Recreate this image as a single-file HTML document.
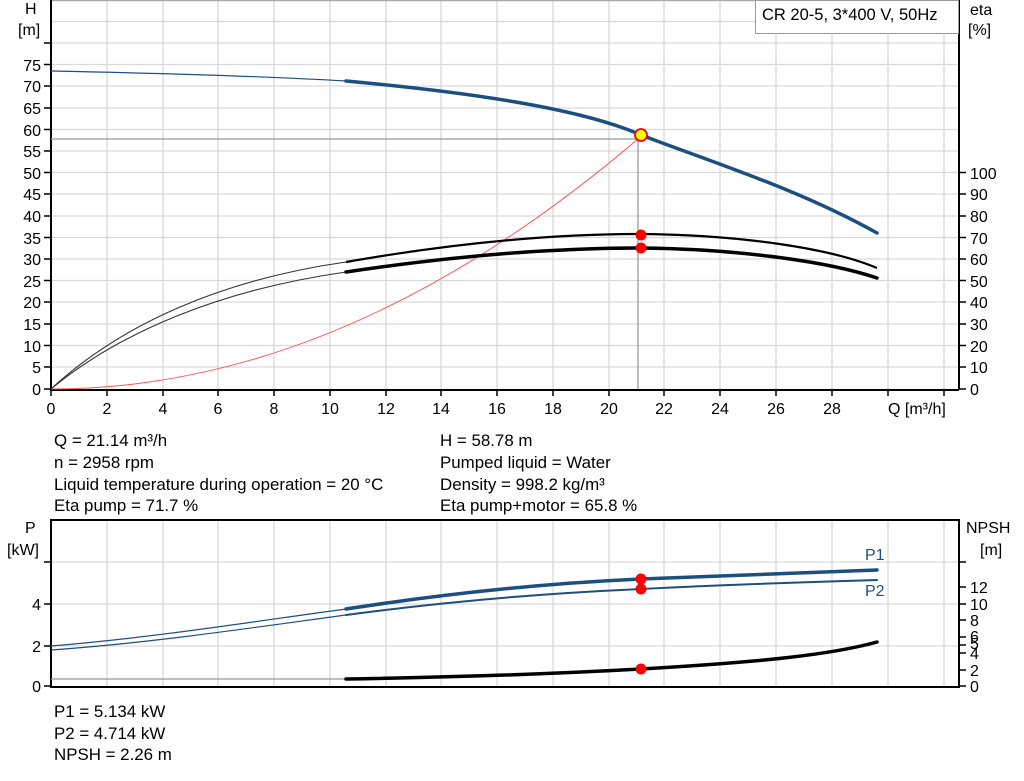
<!DOCTYPE html>
<html><head><meta charset="utf-8"><style>
body{margin:0;background:#fff;}
svg{display:block;font-family:"Liberation Sans",Arial,sans-serif;}
</style></head><body>
<svg width="1024" height="781" viewBox="0 0 1024 781" xmlns="http://www.w3.org/2000/svg">
<g stroke="#d9d9d9" stroke-width="1.3">
<path d="M107 0V389M163 0V389M218 0V389M274 0V389M330 0V389M386 0V389M441 0V389M497 0V389M553 0V389M609 0V389M664 0V389M720 0V389M776 0V389M832 0V389M888 0V389M944 0V389"/>
<path d="M51 21.5H959M51 43H959M51 64.5H959M51 86H959M51 108H959M51 129.5H959M51 151H959M51 172.5H959M51 194H959M51 216H959M51 237.5H959M51 259H959M51 280.5H959M51 302H959M51 324H959M51 345.5H959M51 367H959"/>
<path d="M107 520V686M163 520V686M218 520V686M274 520V686M330 520V686M386 520V686M441 520V686M497 520V686M553 520V686M609 520V686M664 520V686M720 520V686M776 520V686M832 520V686M888 520V686M944 520V686"/>
<path d="M51 562H959M51 604H959M51 646H959"/>
</g>
<path d="M51 0.5H959" stroke="#aaa" stroke-width="1.5"/>
<g stroke="#000" stroke-width="2" fill="none">
<path d="M51 0V390H959M959 0V390"/>
<path d="M51 520H959V687H51Z"/>
</g>
<g stroke="#000" stroke-width="1.5">
<path d="M44 389H51M44 367H51M44 345.5H51M44 324H51M44 302H51M44 280.5H51M44 259H51M44 237.5H51M44 216H51M44 194H51M44 172.5H51M44 151H51M44 129.5H51M44 108H51M44 86H51M44 64.5H51M44 43H51"/>
<path d="M51 389V396M107 389V396M163 389V396M218 389V396M274 389V396M330 389V396M386 389V396M441 389V396M497 389V396M553 389V396M609 389V396M664 389V396M720 389V396M776 389V396M832 389V396M888 389V396M944 389V396"/>
<path d="M959 389H966M959 367H966M959 345.5H966M959 324H966M959 302H966M959 280.5H966M959 259H966M959 237.5H966M959 216H966M959 194H966M959 172.5H966"/>
<path d="M44 686H51M44 646H51M44 604H51M44 562H51"/>
<path d="M959 686H966M959 670H966M959 653H966M959 645H966M959 637H966M959 620H966M959 604H966M959 587H966M959 562H966"/>
</g>
<g font-size="16" fill="#000" text-anchor="end">
<text x="41" y="395">0</text><text x="41" y="373">5</text><text x="41" y="352">10</text><text x="41" y="330">15</text><text x="41" y="308">20</text><text x="41" y="287">25</text><text x="41" y="265">30</text><text x="41" y="244">35</text><text x="41" y="222">40</text><text x="41" y="200">45</text><text x="41" y="179">50</text><text x="41" y="157">55</text><text x="41" y="136">60</text><text x="41" y="114">65</text><text x="41" y="92">70</text><text x="41" y="71">75</text>
<text x="41" y="692">0</text><text x="41" y="652">2</text><text x="41" y="610">4</text>
</g>
<g font-size="16" fill="#000">
<text x="970" y="395">0</text><text x="970" y="373">10</text><text x="970" y="352">20</text><text x="970" y="330">30</text><text x="970" y="308">40</text><text x="970" y="287">50</text><text x="970" y="265">60</text><text x="970" y="244">70</text><text x="970" y="222">80</text><text x="970" y="200">90</text><text x="970" y="179">100</text>
<text x="970" y="692">0</text><text x="970" y="676">2</text><text x="970" y="659">4</text><text x="970" y="649">5</text><text x="970" y="642">6</text><text x="970" y="626">8</text><text x="970" y="610">10</text><text x="970" y="593">12</text>
<text x="25" y="14">H</text><text x="18" y="35">[m]</text>
<text x="970" y="15">eta</text><text x="968" y="35">[%]</text>
<text x="25" y="533">P</text><text x="7" y="555">[kW]</text>
<text x="966" y="533">NPSH</text><text x="980" y="555">[m]</text>
<text x="888" y="414">Q [m³/h]</text>
</g>
<g font-size="16" fill="#000" text-anchor="middle">
<text x="51" y="414">0</text><text x="107" y="414">2</text><text x="163" y="414">4</text><text x="218" y="414">6</text><text x="274" y="414">8</text><text x="330" y="414">10</text><text x="386" y="414">12</text><text x="441" y="414">14</text><text x="497" y="414">16</text><text x="553" y="414">18</text><text x="609" y="414">20</text><text x="664" y="414">22</text><text x="720" y="414">24</text><text x="776" y="414">26</text><text x="832" y="414">28</text>
</g>
<rect x="755.5" y="0.5" width="203" height="33" fill="#fff" stroke="#999"/>
<text x="762" y="20" font-size="16.5">CR 20-5, 3*400 V, 50Hz</text>
<path d="M51 139H638V389" stroke="#999" stroke-width="1.3" fill="none"/>
<path d="M51 389Q345 389 638 139" stroke="#f55" stroke-width="1" fill="none"/>
<path d="M51 71C150 73 260 76 346 81" stroke="#1c4f80" stroke-width="1.2" fill="none"/>
<path d="M346 81C466 92 580 108 641 135C720 165 800 190 877 233" stroke="#1c4f80" stroke-width="3.5" fill="none" stroke-linecap="round"/>
<path d="M51 389C120 325 220 280 346 262" stroke="#333" stroke-width="1.1" fill="none"/>
<path d="M51 389C120 332 220 290 346 272" stroke="#333" stroke-width="1.1" fill="none"/>
<path d="M346 262C460 242 560 234 641 234C740 235 830 248 877 268" stroke="#000" stroke-width="2.2" fill="none"/>
<path d="M346 272C460 255 560 248 641 248C740 249 830 262 877 278" stroke="#000" stroke-width="3.5" fill="none" stroke-linecap="round"/>
<circle cx="641" cy="235" r="5.5" fill="#f00"/>
<circle cx="641" cy="248" r="5.5" fill="#f00"/>
<circle cx="641" cy="135" r="6" fill="#ff0" stroke="#e00" stroke-width="1.8"/>
<path d="M51 646C150 638 250 622 346 609" stroke="#1c4f80" stroke-width="1.2" fill="none"/>
<path d="M51 650C150 643 250 628 346 615" stroke="#1c4f80" stroke-width="1.2" fill="none"/>
<path d="M346 609C450 593 550 583 641 579C740 575 810 572 877 570" stroke="#1c4f80" stroke-width="3.5" fill="none" stroke-linecap="round"/>
<path d="M346 615C450 601 550 593 641 589C740 584 810 582 877 580" stroke="#1c4f80" stroke-width="2" fill="none" stroke-linecap="round"/>
<path d="M51 679H346" stroke="#999" stroke-width="1.3"/>
<path d="M346 679C470 677 570 673 641 669C760 662 830 655 877 642" stroke="#000" stroke-width="3.5" fill="none" stroke-linecap="round"/>
<circle cx="641" cy="579" r="5.5" fill="#f00"/>
<circle cx="641" cy="589" r="5.5" fill="#f00"/>
<circle cx="641" cy="669" r="5.5" fill="#f00"/>
<text x="865" y="560" font-size="16" fill="#1c4f80">P1</text>
<text x="865" y="596" font-size="16" fill="#1c4f80">P2</text>
<g font-size="16.9" fill="#000">
<text x="54" y="446">Q = 21.14 m³/h</text>
<text x="54" y="468">n = 2958 rpm</text>
<text x="54" y="490">Liquid temperature during operation = 20 °C</text>
<text x="54" y="511">Eta pump = 71.7 %</text>
<text x="440" y="446">H = 58.78 m</text>
<text x="440" y="468">Pumped liquid = Water</text>
<text x="440" y="490">Density = 998.2 kg/m³</text>
<text x="440" y="511">Eta pump+motor = 65.8 %</text>
<text x="54" y="717">P1 = 5.134 kW</text>
<text x="54" y="739">P2 = 4.714 kW</text>
<text x="54" y="760">NPSH = 2.26 m</text>
</g>
</svg>
</body></html>
